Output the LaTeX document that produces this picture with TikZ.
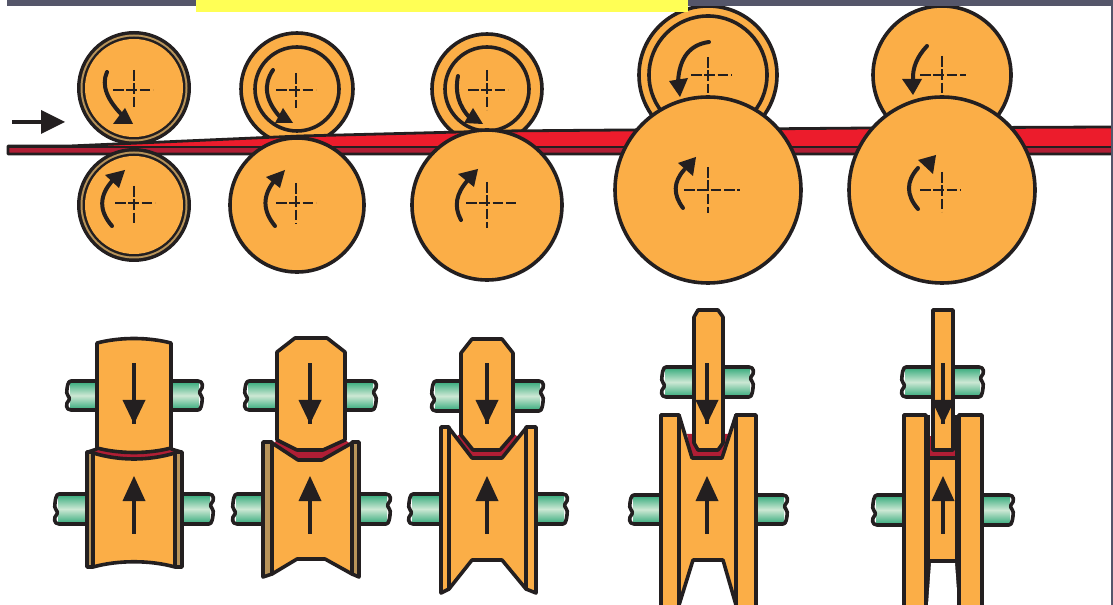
\documentclass[tikz,border=0pt]{standalone}
\usetikzlibrary{calc}
\definecolor{rollc}{HTML}{FBAE47}
\definecolor{ink}{HTML}{231F20}
\definecolor{redc}{HTML}{EC1C2C}
\definecolor{darkred}{HTML}{B01E35}
\definecolor{tanc}{HTML}{B8945A}
\definecolor{barc}{HTML}{55566A}
\definecolor{yelc}{HTML}{FFFF55}
\definecolor{gra}{HTML}{2FA878}
\definecolor{grb}{HTML}{CDE8D4}
\tikzset{
  rollbody/.style={fill=rollc,draw=ink,line width=2.7pt,line join=round},
  ringline/.style={draw=ink,line width=2.7pt},
  xhair/.style={draw=ink,line width=0.9pt,dash pattern=on 8pt off 2pt on 8pt off 2pt},
  turnline/.style={draw=ink,line width=3pt,line cap=round},
  headfill/.style={fill=ink,draw=none},
  stripfill/.style={fill=darkred,draw=none},
  shaftline/.style={draw=ink,line width=2.7pt,line join=round},
}
% turning arrow: start, control, end, tip, base1, base2
\newcommand{\turn}[6]{%
  \draw[turnline] #1 .. controls ($#1!0.67!#2$) and ($#3!0.67!#2$) .. #3;
  \fill[headfill] #4 -- #5 -- #6 -- cycle;}
% crosshair: x1,x2,y,cx,y1,y2
\newcommand{\xh}[6]{%
  \draw[xhair] (#1,#3) -- (#2,#3);
  \draw[xhair] (#4,#5) -- (#4,#6);}
% shaft: x1,x2,y1,y2
\newcommand{\shaft}[4]{%
  \shade[top color=gra,bottom color=gra,middle color=grb] (#1+3,#3) rectangle (#2-3,#4);
  \draw[shaftline] (#1+4,#3) -- (#2-4,#3) .. controls (#2+1,#3) and (#2+2,#3+6) .. (#2-2,#3+10)
     .. controls (#2-4,#3+13) and (#2+2,#3+15) .. (#2,#3+21) .. controls (#2-1,#4) and (#2-3,#4) .. (#2-4,#4)
     -- (#1+4,#4) .. controls (#1-1,#4) and (#1-2,#4-6) .. (#1+2,#4-10)
     .. controls (#1+4,#4-13) and (#1-2,#4-15) .. (#1,#4-21) .. controls (#1+1,#3) and (#1+3,#3) .. cycle;}
% vertical push arrows: x
\newcommand{\pushdown}[1]{%
  \fill[ink] (#1-2.3,363) rectangle (#1+2.3,424);
  \fill[ink] (#1-11.5,400) -- (#1+11.5,400) -- (#1,424) -- cycle;}
\newcommand{\pushup}[1]{%
  \fill[ink] (#1-2.3,534) rectangle (#1+2.3,495);
  \fill[ink] (#1-11.5,501) -- (#1+11.5,501) -- (#1,476) -- cycle;}
\begin{document}
\begin{tikzpicture}[x=0.75pt,y=-0.75pt]
\useasboundingbox (0,0) rectangle (1113,605);
\fill[white] (0,0) rectangle (1113,605);

% === upper rolls of the top row ===
\fill[ink] (134,88) circle (57);
\fill[tanc] (134,88) circle (53.5);
\fill[ink] (134,88) circle (51.5);
\fill[rollc] (134,88) circle (49);
\draw[rollbody] (297,89) circle (56);
\draw[ringline] (297,89) circle (42);
\draw[rollbody] (487,89) circle (55);
\draw[ringline] (487,89) circle (42);
\draw[rollbody] (708,75) circle (69);
\draw[ringline] (708,75) circle (59);
\draw[rollbody] (942,75) circle (69);

\xh{113}{153}{90}{134}{70}{108}
\xh{276}{316}{90}{296}{73}{108}
\xh{468}{508}{90}{487}{70}{110}
\xh{691}{732}{75}{708}{57}{93}
\xh{920}{966}{75}{942}{56}{93}

\turn{(107,72)}{(98,92)}{(125,118)}{(133,124)}{(113,124)}{(125,108)}
\turn{(273,70)}{(258,92)}{(280,117)}{(293,123)}{(275,123)}{(283,108)}
\turn{(458,76)}{(453,100)}{(470,118)}{(483,124)}{(464,123)}{(473,108)}
\turn{(709,42)}{(680,46)}{(678,82)}{(680,97)}{(669,81)}{(688,78)}
\turn{(927,46)}{(912,62)}{(913,80)}{(913,95)}{(902,79)}{(922,79)}

% === the strip ===
\fill[redc] (8,147) -- (70,146) -- (300,136) -- (500,131) -- (870,128) -- (1111,127) -- (1111,147) -- (8,147) -- cycle;
\fill[darkred] (8,147) rectangle (1111,154);
\draw[ink,line width=2.1pt,line join=round] (1111,127) -- (870,128) -- (500,131) -- (300,136) -- (70,146) -- (8,146) -- (8,154) -- (1111,154);
\draw[ink,line width=1.8pt] (8,147) -- (1111,147);

% === lower rolls of the top row ===
\fill[ink] (134,205) circle (57);
\fill[tanc] (134,205) circle (53.5);
\fill[ink] (134,205) circle (51.5);
\fill[rollc] (134,205) circle (49);
\draw[rollbody] (297,205) circle (67);
\draw[rollbody] (487,205) circle (75);
\draw[rollbody] (708,190) circle (93);
\draw[rollbody] (942,190) circle (93);

\xh{115}{155}{203}{134}{186}{225}
\xh{276}{316}{203}{296}{183}{224}
\xh{466}{516}{203}{487}{182}{228}
\xh{684}{740}{190}{708}{167}{213}
\xh{920}{961}{190}{942}{172}{212}

\turn{(112,226)}{(92,203)}{(113,180)}{(125,170)}{(105,175)}{(119,188)}
\turn{(275,226)}{(256,203)}{(275,180)}{(285,170)}{(266,177)}{(280,188)}
\turn{(461,220)}{(450,200)}{(468,180)}{(478,169)}{(458,174)}{(474,187)}
\turn{(683,208)}{(668,188)}{(684,170)}{(696,157)}{(678,163)}{(693,176)}
\turn{(918,209)}{(900,188)}{(918,168)}{(936,155)}{(918,160)}{(933,174)}

% feed arrow
\draw[ink,line width=2.9pt] (12,122) -- (50,122);
\fill[ink] (41,110) -- (65,122) -- (41,134) -- cycle;

% === frame pieces ===
\fill[barc] (7,0) rectangle (1113,6);
\fill[barc] (1111,0) rectangle (1113,605);
\fill[yelc] (196,0) rectangle (688,12);

% === pass 1 ===
\shaft{67}{202}{381}{410}
\shaft{55}{213}{494}{524}
\draw[rollbody,fill=tanc] (87,452) rectangle (93,567);
\draw[rollbody,fill=tanc] (175,452) rectangle (182,567);
\fill[stripfill] (93,450) rectangle (175,462);
\draw[rollbody] (93,453) .. controls (120,461) and (148,461) .. (175,453) -- (175,567)
   .. controls (150,560) and (118,560) .. (93,567) -- cycle;
\draw[rollbody] (97,343) .. controls (120,337) and (148,337) .. (171,343) -- (171,448)
   .. controls (148,454) and (120,454) .. (97,448) -- cycle;
\draw[ink,line width=2.7pt] (88,452) -- (97,449);
\draw[ink,line width=2.7pt] (181,452) -- (171,449);
\pushdown{134}
\pushup{134}

% === pass 2 ===
\shaft{245}{376}{381}{410}
\shaft{233}{390}{494}{524}
\draw[rollbody,fill=tanc] (263,442) -- (272,442) -- (272,574) -- (263,577) -- cycle;
\draw[rollbody,fill=tanc] (359,442) -- (352,442) -- (352,574) -- (359,577) -- cycle;
\fill[stripfill] (277,440) -- (297,448) -- (323,448) -- (345,440) -- (352,445) -- (322,460) -- (298,460) -- (272,445) -- cycle;
\draw[rollbody] (272,443) -- (298,460) -- (322,460) -- (352,443) -- (352,574) -- (325,559) -- (297,559) -- (272,574) -- cycle;
\draw[rollbody] (295,338) -- (327,338) -- (345,352) -- (345,440) -- (323,450) -- (297,450) -- (277,440) -- (277,352) -- cycle;
\pushdown{310}
\pushup{310}

% === pass 3 ===
\shaft{432}{543}{381}{411}
\shaft{409}{567}{494}{524}
\draw[rollbody] (441,427) -- (449,427) -- (449,589) -- (441,593) -- cycle;
\draw[rollbody] (536,427) -- (526,427) -- (526,589) -- (536,593) -- cycle;
\fill[stripfill] (461,433) -- (473,448) -- (500,448) -- (513,433) -- (518,437) -- (502,458) -- (472,458) -- (456,437) -- cycle;
\draw[rollbody] (449,428) -- (472,458) -- (502,458) -- (526,428) -- (526,589) -- (502,560) -- (472,560) -- (449,589) -- cycle;
\draw[rollbody] (472,339) -- (502,339) -- (513,353) -- (513,435) -- (500,450) -- (473,450) -- (461,435) -- (461,353) -- cycle;
\pushdown{487}
\pushup{487}

% === pass 4 ===
\shaft{662}{753}{367}{397}
\shaft{630}{787}{495}{524}
\fill[stripfill] (687,434) -- (692,458) -- (722,458) -- (729,434) -- cycle;
\draw[rollbody] (679,415) -- (692,458) -- (722,458) -- (736,415) -- (736,605) -- (723,560) -- (693,560) -- (679,605) -- cycle;
\draw[rollbody] (661,415) rectangle (679,612);
\draw[rollbody] (736,415) rectangle (756,612);
\draw[rollbody] (698,310) -- (718,310) -- (723,317) -- (723,443) -- (718,450) -- (698,450) -- (694,443) -- (694,317) -- cycle;
\pushdown{707}
\pushup{707}

% === pass 5 ===
\shaft{902}{983}{367}{397}
\shaft{873}{1013}{495}{525}
\fill[stripfill] (928,436) rectangle (957,458);
\draw[ink,line width=2.7pt] (928,415) -- (928,458) -- (957,458) -- (957,415);
\draw[rollbody] (928,458) rectangle (957,561);
\fill[ink] (925,561) -- (960,561) -- (960,605) -- (925,605) -- cycle;
\fill[white] (931,563) -- (955,563) -- (958,605) -- (928,605) -- cycle;
\draw[rollbody] (904,415) rectangle (926,612);
\draw[rollbody] (959,415) rectangle (982,612);
\draw[rollbody] (933,310) rectangle (953,450);
\pushdown{943}
\pushup{943}
\end{tikzpicture}
\end{document}
